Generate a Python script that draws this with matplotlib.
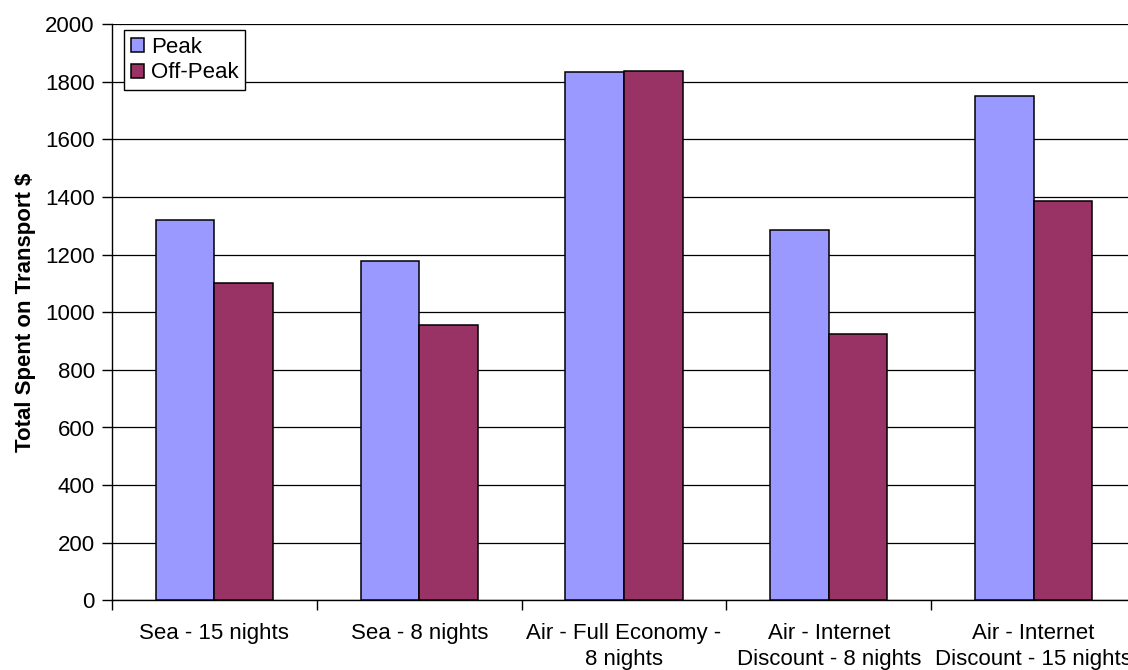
import matplotlib.pyplot as plt
import numpy as np

plt.rcParams['font.family'] = ['Liberation Sans', 'DejaVu Sans']

# Transport cost per option
categories = ["Sea - 15 nights", "Sea - 8 nights", "Air - Full Economy -\n8 nights",
              "Air - Internet\nDiscount - 8 nights", "Air - Internet\nDiscount - 15 nights"]
peak = [1320, 1178, 1835, 1287, 1750]
off_peak = [1100, 955, 1838, 925, 1388]
series_names = ["Peak", "Off-Peak"]
yticks = np.arange(0, 2001, 200)

fs = 16
W, H = 1128, 670
fig = plt.figure(figsize=(W / 100, H / 100), dpi=100)
# plot area runs a little past the right edge of the canvas
ax = fig.add_axes([112 / W, 69.7 / H, 1024 / W, 576 / H])

x = np.arange(len(categories))
w = 1 / 3.5   # 150% gap width
ax.bar(x - w / 2, peak, w, color='#9999FF', edgecolor='black', linewidth=1.1,
       label=series_names[0], zorder=3)
ax.bar(x + w / 2, off_peak, w, color='#993366', edgecolor='black', linewidth=1.1,
       label=series_names[1], zorder=3)

ax.set_xlim(-0.5, len(categories) - 0.5)
ax.set_ylim(0, 2000)
ax.set_yticks(yticks)
ax.set_yticklabels([str(v) for v in yticks], fontsize=fs)
ax.yaxis.grid(True, color='black', linewidth=0.9, zorder=0)

# category names centred, tick marks on the category boundaries
ax.set_xticks(x)
ax.set_xticklabels(categories, fontsize=fs, linespacing=1.35)
ax.tick_params(axis='x', which='major', length=0, pad=16)
ax.set_xticks(np.arange(len(categories) + 1) - 0.5, minor=True)
ax.tick_params(axis='x', which='minor', length=7, width=1, color='black')
ax.tick_params(axis='y', length=7, width=1, color='black', pad=5.5)

for side in ['top', 'right']:
    ax.spines[side].set_visible(False)
for side in ['left', 'bottom']:
    ax.spines[side].set_color('black')
    ax.spines[side].set_linewidth(1)

ax.set_ylabel("Total Spent on Transport $", fontsize=fs, fontweight='bold')
ax.yaxis.set_label_coords(-0.074, 0.5)

leg = ax.legend(loc='upper left', bbox_to_anchor=(12 / 1024, 1 - 6 / 576),
                borderaxespad=0, fontsize=fs, fancybox=False, framealpha=1,
                edgecolor='black', handlelength=0.6, handleheight=0.6,
                handletextpad=0.3, labelspacing=0.2, borderpad=0.3)
leg.get_frame().set_linewidth(1)

fig.savefig('out.png', dpi=100)
